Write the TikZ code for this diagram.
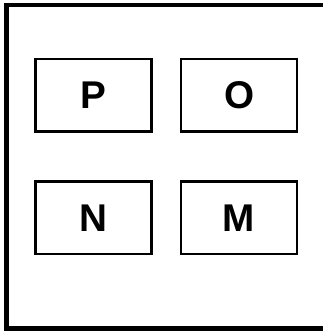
\documentclass[tikz,border=0pt]{standalone}
\usepackage{fontspec}
\setmainfont{Liberation Sans}
\usetikzlibrary{positioning}

\begin{document}
\begin{tikzpicture}[
  x=0.75pt,y=0.75pt,
  node distance=35.7pt and 20pt,
  cell/.style={draw,line width=2pt,minimum width=87pt,minimum height=54.3pt,
    inner sep=0pt,font=\fontsize{29}{29}\selectfont\bfseries}
]
\useasboundingbox (0,0) rectangle (323,331);
\clip (0,0) rectangle (323,331);
% outer frame, runs off the right edge
\draw[line width=3.4pt] (340,326) -- (6.5,326) -- (6.5,2.5) -- (340,2.5);

% boxes
\node[cell] (P) at (93.7,235.8) {P};
\node[cell,right=of P] (O) {O};
\node[cell,below=of P] (N) {N};
\node[cell,below=of O] (M) {M};
\end{tikzpicture}
\end{document}
